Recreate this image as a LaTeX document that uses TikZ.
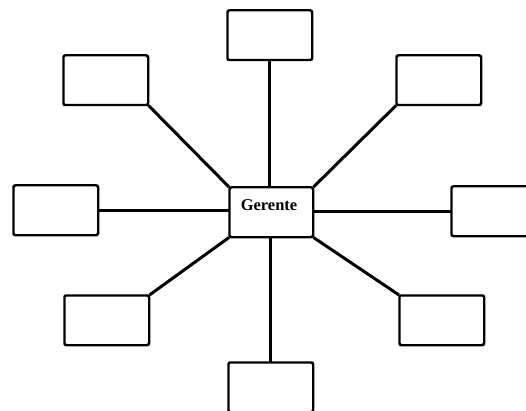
\documentclass[tikz,border=0pt]{standalone}
\usepackage{fontspec}
\setmainfont{Liberation Serif}
\begin{document}
\begin{tikzpicture}[x=1pt,y=-1pt,
  unit/.style={draw, line width=1.5pt, rounded corners=2pt, fill=white,
    minimum width=84pt, minimum height=49pt, inner sep=0pt, anchor=north west},
  link/.style={line width=3pt}]
\useasboundingbox (0,0) rectangle (526,411);
\clip (0,0) rectangle (526,411);
% central box
\node[unit, minimum width=83pt] (boss) at (229,187) {};
% surrounding boxes
\node[unit] (top)   at (227,10)  {};
\node[unit] (tl)    at (63,55)   {};
\node[unit] (tr)    at (396,55)  {};
\node[unit] (left)  at (13,185)  {};
\node[unit] (right) at (451,186) {};
\node[unit] (bl)    at (64,295)  {};
\node[unit] (br)    at (399,295) {};
\node[unit] (bot)   at (228,362) {};
% connectors
\draw[link] (top.south) -- (top.south |- boss.north);
\draw[link] (boss.north west) -- (tl.south east);
\draw[link] (boss.north east) -- (tr.south west);
\draw[link] (left.east) -- (left.east -| boss.west);
\draw[link] (right.west) -- (right.west -| boss.east);
\draw[link] (boss.south west) -- (bl.north east);
\draw[link] (boss.south east) -- (br.north west);
\draw[link] (bot.north) -- (bot.north |- boss.south);
% box outlines drawn over the line ends
\foreach \n in {boss,top,tl,tr,left,right,bl,br,bot}
  \draw[line width=1.5pt, rounded corners=2pt] (\n.north west) rectangle (\n.south east);
\node[font=\bfseries\fontsize{16.5}{18}\selectfont] (label) at (269,205) {Gerente};
\end{tikzpicture}
\end{document}
